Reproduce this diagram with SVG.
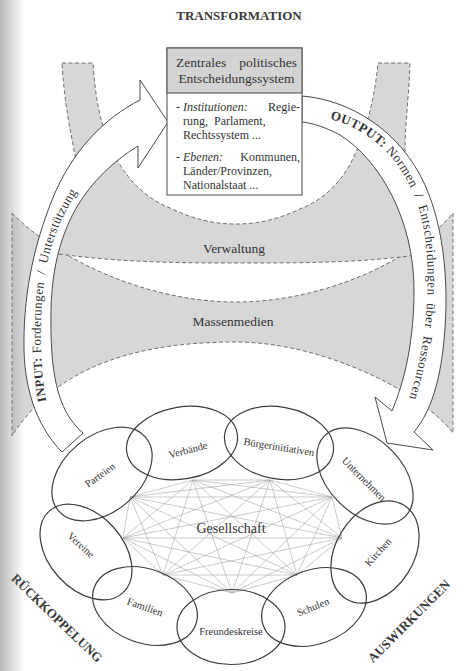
<svg xmlns="http://www.w3.org/2000/svg" width="464" height="671" viewBox="0 0 464 671" font-family="'Liberation Serif', 'Times New Roman', serif">
<defs>
<linearGradient id="gutter" x1="0" y1="0" x2="1" y2="0">
<stop offset="0" stop-color="#808080" stop-opacity="0.55"/>
<stop offset="1" stop-color="#808080" stop-opacity="0"/>
</linearGradient>
<path id="inPath" d="M 47,405 C 40,372 39,322 44,282 C 49,242 64,205 96,166"/>
<path id="outPath" d="M 324,118 C 368,126 405,160 420,212 C 433,262 431,340 404,414"/>
</defs>
<style>
.band{fill:#d7d7d7;stroke:#505050;stroke-width:0.8;stroke-dasharray:4 2.5}
.arrow{fill:#fff;stroke:#4a4a4a;stroke-width:1}
.t{font-family:"Liberation Serif","Times New Roman",serif;fill:#333}
.ell{fill:none;stroke:#3d3d3d;stroke-width:1.2}
.lbl{font-size:10.5px;text-anchor:middle}
.web line{stroke:#a8a8a8;stroke-width:0.6}
.big{font-size:13px;font-weight:bold;text-anchor:middle;fill:#3a3a3a}
.box{font-size:12px}
</style>
<rect width="464" height="671" fill="#fff"/>

<g id="massenmedien">
<path class="band" d="M 12,213 C 60,262 150,302 236,302 C 322,302 412,262 453,213 L 453,433 C 420,390 320,342 236,342 C 150,342 60,360 12,436 Z"/>
<text class="t" x="233" y="326" font-size="13.5" text-anchor="middle">Massenmedien</text>
</g>

<g id="verwaltung">
<path class="band" d="M 62,63 L 93,63 C 95,95 100,125 112,150 C 125,178 145,198 170,208 C 195,220 215,224 236,224 C 257,224 277,220 302,208 C 327,198 345,178 356,152 C 368,125 375,95 378,63 L 410,63 C 409,95 405,125 405,150 L 416,255 C 360,263 300,263 236,263 C 170,263 110,262 45,252 L 76,160 C 70,130 64,100 62,63 Z"/>
<text class="t" x="234" y="253" font-size="13.5" text-anchor="middle">Verwaltung</text>
</g>

<g id="input-arrow">
<path class="arrow" d="M 62,452 C 40,430 25,395 24,350 C 23,300 32,250 52,200 C 72,150 105,118 140,100 L 140,80 L 168,122 L 138,168 L 138,146 C 112,162 92,182 78,205 C 62,232 52,265 51,310 C 50,370 56,410 83,433 Z"/>
<text class="t" font-size="13" letter-spacing="0.4"><textPath href="#inPath" startOffset="4"><tspan font-weight="bold" font-size="12.5">INPUT:</tspan> Forderungen&#160;&#160;/&#160;&#160;Unterstützung</textPath></text>
</g>

<g id="output-arrow">
<path class="arrow" d="M 302,96 C 350,100 400,130 425,185 C 445,230 450,290 443,350 C 438,390 428,415 414,432 L 433,450 L 387,443 L 375,397 L 392,411 C 405,380 414,340 414,290 C 414,220 380,160 340,135 C 325,127 312,123 302,122 Z"/>
<text class="t" font-size="13" letter-spacing="0.5"><textPath href="#outPath" startOffset="6"><tspan font-weight="bold">OUTPUT:</tspan> Normen&#160;&#160;/&#160;&#160;Entscheidungen&#160;&#160;über&#160;&#160;Ressourcen</textPath></text>
</g>

<g id="zentrales-system">
<rect x="167" y="48" width="135" height="147" fill="#fff" stroke="#4a4a4a" stroke-width="1"/>
<rect x="167" y="48" width="135" height="45" fill="#d3d3d3" stroke="#4a4a4a" stroke-width="1"/>
<text class="t" x="176" y="67" font-size="13.5">Zentrales</text>
<text class="t" x="297" y="67" font-size="13.5" text-anchor="end">politisches</text>
<text class="t" x="236.5" y="83" font-size="13.5" text-anchor="middle">Entscheidungssystem</text>
<text class="t box" x="176" y="111">- <tspan font-style="italic">Institutionen:</tspan></text>
<text class="t box" x="300" y="111" text-anchor="end">Regie-</text>
<text class="t box" x="183" y="125" word-spacing="3">rung, Parlament,</text>
<text class="t box" x="183" y="139">Rechtssystem ...</text>
<text class="t box" x="176" y="161">- <tspan font-style="italic">Ebenen:</tspan></text>
<text class="t box" x="300" y="161" text-anchor="end">Kommunen,</text>
<text class="t box" x="183" y="175">Länder/Provinzen,</text>
<text class="t box" x="183" y="189">Nationalstaat ...</text>
</g>

<g id="connectors" class="web">
<line x1="193" y1="480" x2="270" y2="480"/>
<line x1="193" y1="480" x2="332" y2="497"/>
<line x1="193" y1="480" x2="342" y2="538"/>
<line x1="193" y1="480" x2="297" y2="575"/>
<line x1="193" y1="480" x2="232" y2="593"/>
<line x1="193" y1="480" x2="163" y2="575"/>
<line x1="193" y1="480" x2="123" y2="538"/>
<line x1="193" y1="480" x2="130" y2="497"/>
<line x1="270" y1="480" x2="332" y2="497"/>
<line x1="270" y1="480" x2="342" y2="538"/>
<line x1="270" y1="480" x2="297" y2="575"/>
<line x1="270" y1="480" x2="232" y2="593"/>
<line x1="270" y1="480" x2="163" y2="575"/>
<line x1="270" y1="480" x2="123" y2="538"/>
<line x1="270" y1="480" x2="130" y2="497"/>
<line x1="332" y1="497" x2="342" y2="538"/>
<line x1="332" y1="497" x2="297" y2="575"/>
<line x1="332" y1="497" x2="232" y2="593"/>
<line x1="332" y1="497" x2="163" y2="575"/>
<line x1="332" y1="497" x2="123" y2="538"/>
<line x1="332" y1="497" x2="130" y2="497"/>
<line x1="342" y1="538" x2="297" y2="575"/>
<line x1="342" y1="538" x2="232" y2="593"/>
<line x1="342" y1="538" x2="163" y2="575"/>
<line x1="342" y1="538" x2="123" y2="538"/>
<line x1="342" y1="538" x2="130" y2="497"/>
<line x1="297" y1="575" x2="232" y2="593"/>
<line x1="297" y1="575" x2="163" y2="575"/>
<line x1="297" y1="575" x2="123" y2="538"/>
<line x1="297" y1="575" x2="130" y2="497"/>
<line x1="232" y1="593" x2="163" y2="575"/>
<line x1="232" y1="593" x2="123" y2="538"/>
<line x1="232" y1="593" x2="130" y2="497"/>
<line x1="163" y1="575" x2="123" y2="538"/>
<line x1="163" y1="575" x2="130" y2="497"/>
<line x1="123" y1="538" x2="130" y2="497"/>
</g>

<g id="gesellschaft">
<text class="t" x="231" y="533" font-size="14" text-anchor="middle" fill="#444">Gesellschaft</text>
</g>

<g id="parteien">
<ellipse class="ell" cx="102" cy="474" rx="57" ry="38" transform="rotate(-40 102 474)"/>
<text class="t lbl" transform="translate(100 475) rotate(-35)" y="3.5">Parteien</text>
</g>
<g id="verbaende">
<ellipse class="ell" cx="182" cy="443" rx="56" ry="36" transform="rotate(-10 182 443)"/>
<text class="t lbl" transform="translate(188 450) rotate(-15)" y="3.5">Verbände</text>
</g>
<g id="buergerinitiativen">
<ellipse class="ell" cx="279" cy="443" rx="55" ry="36" transform="rotate(10 279 443)"/>
<text class="t lbl" transform="translate(279 447) rotate(9)" y="3.5">Bürgerinitiativen</text>
</g>
<g id="unternehmen">
<ellipse class="ell" cx="365" cy="476" rx="57" ry="37" transform="rotate(45 365 476)"/>
<text class="t lbl" transform="translate(364 479) rotate(45)" y="3.5">Unternehmen</text>
</g>
<g id="kirchen">
<ellipse class="ell" cx="375" cy="552" rx="55" ry="39" transform="rotate(-58 375 552)"/>
<text class="t lbl" transform="translate(378 552) rotate(-48)" y="3.5">Kirchen</text>
</g>
<g id="schulen">
<ellipse class="ell" cx="314" cy="607" rx="54" ry="37" transform="rotate(-20 314 607)"/>
<text class="t lbl" transform="translate(313 607) rotate(-22)" y="3.5">Schulen</text>
</g>
<g id="freundeskreise">
<ellipse class="ell" cx="231" cy="627" rx="54" ry="37.5"/>
<text class="t lbl" transform="translate(231 631)" y="3.5">Freundeskreise</text>
</g>
<g id="familien">
<ellipse class="ell" cx="145" cy="606" rx="54" ry="37" transform="rotate(20 145 606)"/>
<text class="t lbl" transform="translate(145 607) rotate(20)" y="3.5">Familien</text>
</g>
<g id="vereine">
<ellipse class="ell" cx="86" cy="552" rx="55" ry="37" transform="rotate(48 86 552)"/>
<text class="t lbl" transform="translate(81 545) rotate(42)" y="3.5">Vereine</text>
</g>

<g id="titles">
<text class="t big" x="239" y="20">TRANSFORMATION</text>
<text class="t big" transform="translate(57 618) rotate(44)" y="4.5">RÜCKKOPPELUNG</text>
<text class="t big" transform="translate(409 621) rotate(-45)" y="4.5">AUSWIRKUNGEN</text>
</g>

<rect x="0" y="0" width="24" height="671" fill="url(#gutter)"/>
</svg>
